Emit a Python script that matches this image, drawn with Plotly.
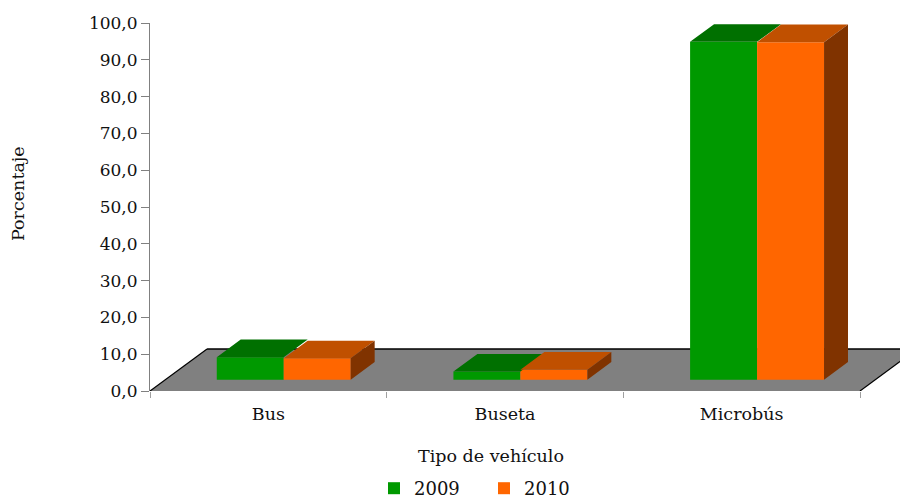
import plotly.graph_objects as go

# ---- data ----
categories = ["Bus", "Buseta", "Microbús"]
series_names = ["2009", "2010"]
values_2009 = [6.1, 2.2, 91.8]
values_2010 = [5.8, 2.7, 91.7]
y_tick_vals = [0, 10, 20, 30, 40, 50, 60, 70, 80, 90, 100]

# ---- styling / pseudo-3D geometry ----
FRONT = {"2009": "#009900", "2010": "#FF6600"}
TOP = {"2009": "#007000", "2010": "#C05000"}
SIDE = {"2009": "#004d00", "2010": "#803300"}
FONT = "DejaVu Serif"

n = len(categories)
FLOOR_DX = 0.241      # x-units of floor depth
FLOOR_DY = 11.4       # y-units of floor depth
D0, D1 = 0.27, 0.69   # bar front / back depth fraction
BAR_W = 0.283
fx0, fy0 = D0 * FLOOR_DX, D0 * FLOOR_DY
dxb, dyb = (D1 - D0) * FLOOR_DX, (D1 - D0) * FLOOR_DY

fig = go.Figure()

series = [("2009", values_2009, -1), ("2010", values_2010, 1)]
bar_geo = {}
for name, vals, sgn in series:
    xs = [i + 0.5 + sgn * BAR_W / 2 + fx0 for i in range(n)]
    bar_geo[name] = (xs, vals)
    fig.add_trace(go.Bar(
        x=xs, y=vals, base=fy0, width=BAR_W, name=name,
        marker=dict(color=FRONT[name], line=dict(width=0)),
        hovertemplate="%{y:.1f}<extra>" + name + "</extra>",
    ))

# top faces
for name, vals, sgn in series:
    xs, _ = bar_geo[name]
    px, py = [], []
    for xc, v in zip(xs, vals):
        xl, xr = xc - BAR_W / 2, xc + BAR_W / 2
        t = fy0 + v
        px += [xl, xr, xr + dxb, xl + dxb, xl, None]
        py += [t, t, t + dyb, t + dyb, t, None]
    fig.add_trace(go.Scatter(x=px, y=py, mode="lines", fill="toself",
                             fillcolor=TOP[name], line=dict(width=0),
                             showlegend=False, hoverinfo="skip"))

# side faces (only last series visible)
name, vals, sgn = series[-1]
xs, _ = bar_geo[name]
px, py = [], []
for xc, v in zip(xs, vals):
    xr = xc + BAR_W / 2
    t = fy0 + v
    px += [xr, xr, xr + dxb, xr + dxb, xr, None]
    py += [fy0, t, t + dyb, fy0 + dyb, fy0, None]
fig.add_trace(go.Scatter(x=px, y=py, mode="lines", fill="toself",
                         fillcolor=SIDE[name], line=dict(width=0),
                         showlegend=False, hoverinfo="skip"))

# floor
floor_path = (f"M0,0 L{n},0 L{n + FLOOR_DX},{FLOOR_DY} "
              f"L{FLOOR_DX},{FLOOR_DY} Z")
shapes = [
    dict(type="path", path=floor_path, xref="x", yref="y", layer="below",
         fillcolor="#808080", line=dict(width=0)),
    dict(type="line", xref="x", yref="y", x0=FLOOR_DX, y0=FLOOR_DY,
         x1=n + FLOOR_DX, y1=FLOOR_DY, line=dict(color="#000000", width=1.5),
         layer="below"),
    dict(type="line", xref="x", yref="y", x0=0, y0=0, x1=FLOOR_DX,
         y1=FLOOR_DY, line=dict(color="#000000", width=1.2), layer="below"),
    dict(type="line", xref="x", yref="y", x0=n, y0=0, x1=n + FLOOR_DX,
         y1=FLOOR_DY, line=dict(color="#000000", width=1.2), layer="below"),
]

# page has an 8px body margin: figure occupies page x 8..908, y 8..498
OFF = 8
plot_w = 908 - 150
plot_h = 391 - 23
x_max = plot_w / (710 / n)

fig.update_layout(
    width=908 - OFF, height=498 - OFF,
    margin=dict(l=150 - OFF, r=0, t=23 - OFF, b=498 - 391,
                autoexpand=False),
    paper_bgcolor="white", plot_bgcolor="rgba(0,0,0,0)",
    separators=",.",
    barmode="overlay",
    font=dict(family=FONT, size=17, color="#111111"),
    shapes=shapes,
    showlegend=True,
    legend=dict(orientation="h", x=(374 - 150) / plot_w, xanchor="left",
                y=-(470 - 391) / plot_h, yanchor="top",
                font=dict(family=FONT, size=18),
                entrywidth=65, itemwidth=30, tracegroupgap=0),
    xaxis=dict(range=[0, x_max], tickmode="array",
               tickvals=[i + 0.5 for i in range(n)], ticktext=categories,
               ticks="", showgrid=False, zeroline=False,
               showline=False, automargin=False, ticklabelstandoff=10,
               tickfont=dict(family=FONT, size=17.5),
               minor=dict(ticks="outside", tick0=0, dtick=1, ticklen=6,
                          tickcolor="#a0a0a0", showgrid=False),
               fixedrange=True),
    yaxis=dict(range=[0, 100], tickmode="array", tickvals=y_tick_vals,
               tickformat=".1f", ticks="outside", ticklen=8,
               tickcolor="#808080", showline=True, linecolor="#808080",
               linewidth=1, showgrid=False, zeroline=False, automargin=False,
               tickfont=dict(family=FONT, size=17), fixedrange=True),
    annotations=[
        dict(text="Porcentaje", textangle=-90, xref="paper",
             yref="paper", x=(18 - 150) / plot_w,
             y=(391 - 194) / plot_h, xanchor="center",
             yanchor="middle", showarrow=False,
             font=dict(family=FONT, size=17.5)),
        dict(text="Tipo de vehículo", xref="paper", yref="paper",
             x=(491 - 150) / plot_w, y=-(456 - 391) / plot_h,
             xanchor="center", yanchor="middle", showarrow=False,
             font=dict(family=FONT, size=17.5)),
    ],
)

fig.write_html("out.html")
